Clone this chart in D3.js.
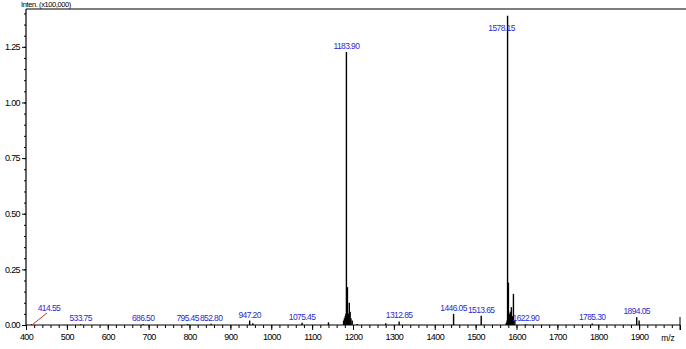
<!DOCTYPE html>
<html>
<head>
<meta charset="utf-8">
<script src="https://cdn.jsdelivr.net/npm/d3@7"></script>
<style>
  body { margin: 0; background: #fff; }
  svg { display: block; }
  text { font-family: "Liberation Sans", Arial, sans-serif; }
</style>
</head>
<body>
<div id="chart"></div>
<script>
// labeled peaks (m/z, intensity x100,000)
var labelMz = [414.55, 533.75, 686.50, 795.45, 852.80, 947.20, 1075.45, 1183.90, 1312.85, 1446.05, 1513.65, 1578.15, 1622.90, 1785.30, 1894.05];
var labelInt = [0.004, 0.003, 0.003, 0.004, 0.006, 0.02, 0.01, 1.227, 0.016, 0.05, 0.042, 1.39, 0.003, 0.007, 0.035];

// unlabeled peaks around the clusters
var otherMz = [955, 1140, 1177, 1179, 1181, 1182.5, 1186.4, 1188.5, 1190.9, 1193, 1195, 1198, 1210, 1280, 1575, 1577, 1580.2, 1582.5, 1585, 1587.5, 1590, 1592.5, 1596, 1900];
var otherInt = [0.008, 0.012, 0.02, 0.03, 0.04, 0.05, 0.17, 0.05, 0.10, 0.06, 0.03, 0.02, 0.005, 0.008, 0.01, 0.02, 0.19, 0.05, 0.06, 0.08, 0.04, 0.14, 0.02, 0.02];

var xTicks = [400, 500, 600, 700, 800, 900, 1000, 1100, 1200, 1300, 1400, 1500, 1600, 1700, 1800, 1900];
var yTicks = [0, 0.25, 0.5, 0.75, 1.0, 1.25];

var svgWidth = 686;
var svgHeight = 349;
var margin = {left: 26, right: 680, top: 9, bottom: 325};

var svg = d3.select("#chart")
    .append("svg")
    .attr("width", svgWidth)
    .attr("height", svgHeight);

var x = d3.scaleLinear().domain([400, 2000]).range([margin.left, margin.right]);
var y = d3.scaleLinear().domain([0, 1.42]).range([margin.bottom, margin.top]);

var blue = "#2b2bd0";

// top border line
svg.append("line")
    .attr("x1", margin.left).attr("x2", svgWidth)
    .attr("y1", margin.top).attr("y2", margin.top)
    .attr("stroke", "#000").attr("stroke-width", 1.2);

svg.append("text")
    .attr("x", 21).attr("y", 7)
    .attr("font-size", 7.5)
    .attr("letter-spacing", -0.4)
    .text("Inten. (x100,000)");

// x axis
var xAxis = svg.append("g")
    .attr("transform", `translate(0, ${margin.bottom})`);
xAxis.append("g")
    .call(d3.axisBottom(x).tickValues(d3.range(400, 2001, 20)).tickSize(3).tickFormat(""))
    .call(g => g.select(".domain").remove());
xAxis.append("g")
    .call(d3.axisBottom(x).tickValues(xTicks.concat([2000])).tickSize(5).tickPadding(4)
        .tickFormat(d => d === 2000 ? "" : d))
    .call(g => g.select(".domain").remove())
    .selectAll("text")
    .attr("font-size", 9)
    .attr("letter-spacing", -0.6)
    .attr("fill", "#000")
    .attr("font-family", "Liberation Sans, Arial, sans-serif");
xAxis.append("line")
    .attr("x1", margin.left).attr("x2", margin.right)
    .attr("stroke", "#000").attr("stroke-width", 1.2);
xAxis.append("line")
    .attr("x1", margin.right).attr("x2", margin.right).attr("y1", -8).attr("y2", 5)
    .attr("stroke", "#000");

svg.append("text")
    .attr("x", 668).attr("y", 341)
    .attr("font-size", 8.5)
    .attr("text-anchor", "middle")
    .text("m/z");

// y axis
var yAxis = svg.append("g")
    .attr("transform", `translate(${margin.left}, 0)`);
yAxis.append("g")
    .call(d3.axisLeft(y).tickValues(d3.range(0, 1.41, 0.05)).tickSize(2).tickFormat(""))
    .call(g => g.select(".domain").remove());
yAxis.append("g")
    .call(d3.axisLeft(y).tickValues(yTicks).tickSize(4).tickPadding(2).tickFormat(d3.format(".2f")))
    .call(g => g.select(".domain").remove())
    .selectAll("text")
    .attr("font-size", 9)
    .attr("letter-spacing", -0.6)
    .attr("fill", "#000")
    .attr("font-family", "Liberation Sans, Arial, sans-serif");
yAxis.append("line")
    .attr("y1", margin.top).attr("y2", margin.bottom)
    .attr("stroke", "#000").attr("stroke-width", 1.2);

// peaks
var peaks = otherMz.map((m, i) => ({mz: m, v: otherInt[i]}))
    .concat(labelMz.map((m, i) => ({mz: m, v: labelInt[i]})));

svg.append("g").selectAll("line")
    .data(peaks)
    .enter()
    .append("line")
    .attr("x1", d => x(d.mz)).attr("x2", d => x(d.mz))
    .attr("y1", y(0)).attr("y2", d => y(d.v))
    .attr("stroke", "#000")
    .attr("stroke-width", 1.4);

// peak labels
var labels = labelMz.map((m, i) => ({mz: m, v: labelInt[i]}));

svg.append("g").selectAll("text")
    .data(labels)
    .enter()
    .append("text")
    .attr("x", d => d.mz === 414.55 ? x(d.mz) + 17 : (d.mz === 1578.15 ? x(d.mz) - 6 : x(d.mz)))
    .attr("y", d => d.mz === 414.55 ? 311 : Math.max(y(d.v) - 3, 31))
    .attr("text-anchor", "middle")
    .attr("font-size", 8.5)
    .attr("letter-spacing", -0.6)
    .attr("fill", blue)
    .text(d => d.mz.toFixed(2));

// leader line for the first label
svg.append("line")
    .attr("x1", x(414.55)).attr("y1", y(0))
    .attr("x2", x(414.55) + 15).attr("y2", 313)
    .attr("stroke", "#c0392b").attr("stroke-width", 1);
</script>
</body>
</html>
